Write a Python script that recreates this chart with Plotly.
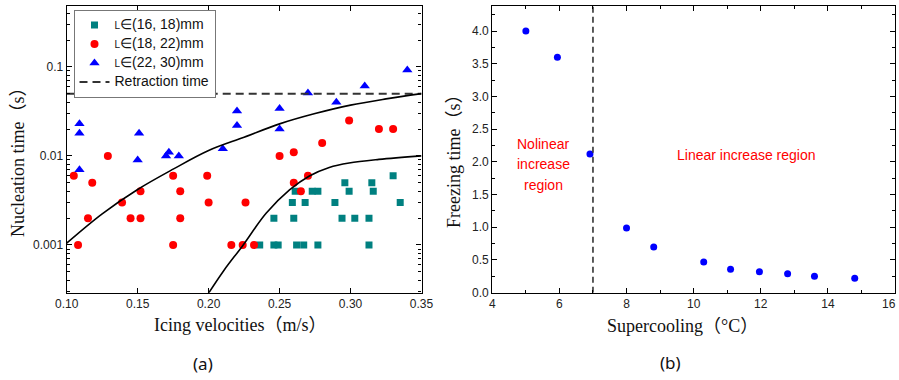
import plotly.graph_objects as go

# ---------------- data: panel (a) ----------------
sq_x = [0.236, 0.246, 0.249, 0.262, 0.267, 0.277, 0.313,
        0.246, 0.260, 0.294, 0.303, 0.313,
        0.259, 0.268, 0.289, 0.335,
        0.261, 0.273, 0.277, 0.299, 0.316,
        0.296, 0.315,
        0.330]
sq_y = [0.001, 0.001, 0.001, 0.001, 0.001, 0.001, 0.001,
        0.002, 0.002, 0.002, 0.002, 0.002,
        0.003, 0.003, 0.003, 0.003,
        0.004, 0.004, 0.004, 0.004, 0.004,
        0.005, 0.005,
        0.006]

ci_x = [0.105, 0.108, 0.115, 0.118, 0.129, 0.139, 0.145, 0.152, 0.152, 0.175,
        0.175, 0.180, 0.180, 0.199, 0.200, 0.216, 0.224, 0.226, 0.232, 0.250,
        0.260, 0.260, 0.265, 0.270, 0.280, 0.299, 0.320, 0.330]
ci_y = [0.006, 0.001, 0.002, 0.005, 0.010, 0.003, 0.002, 0.002, 0.004, 0.006,
        0.001, 0.002, 0.004, 0.006, 0.003, 0.001, 0.001, 0.003, 0.001, 0.010,
        0.011, 0.005, 0.004, 0.006, 0.014, 0.025, 0.020, 0.020]

tr_x = [0.109, 0.109, 0.109, 0.150, 0.151, 0.170, 0.172, 0.179, 0.210,
        0.220, 0.220, 0.250, 0.250, 0.270, 0.290, 0.310, 0.340]
tr_y = [0.023, 0.018, 0.007, 0.009, 0.018, 0.010, 0.011, 0.010, 0.012,
        0.032, 0.022, 0.034, 0.020, 0.051, 0.040, 0.061, 0.092]

fit1_x = [0.10, 0.125, 0.15, 0.175, 0.20, 0.225, 0.25, 0.275, 0.30, 0.325, 0.35]
fit1_y = [0.00105, 0.00224, 0.0042, 0.0071, 0.0115, 0.0162, 0.0229, 0.0299,
          0.0372, 0.0437, 0.0501]

fit2_x = [0.1995, 0.211, 0.224, 0.2405, 0.257, 0.271, 0.285, 0.299, 0.320, 0.35]
fit2_y = [0.00028, 0.000524, 0.000982, 0.00227, 0.00415, 0.00596, 0.00743,
          0.00834, 0.00914, 0.0100]

retraction_time = 0.05
vel_range = [0.10, 0.35]
vel_ticks = [0.10, 0.15, 0.20, 0.25, 0.30, 0.35]
nuc_ticks = [0.001, 0.01, 0.1]
nuc_ticktext = ["0.001", "0.01", "0.1"]

# ---------------- data: panel (b) ----------------
supercool = [5.0, 5.94, 6.91, 8.0, 8.81, 10.3, 11.1, 11.96, 12.8, 13.6, 14.8]
freeze_t = [4.0, 3.6, 2.12, 0.99, 0.70, 0.47, 0.36, 0.32, 0.29, 0.25, 0.22]
boundary = 7.0
sc_range = [4, 16]
sc_ticks = [4, 6, 8, 10, 12, 14, 16]
sc_ticktext = ["4", "6", "8", "10", "12", "14", ""]   # last label drawn at the edge below

W, H = 899, 380
SANS = "Liberation Sans, Arial, sans-serif"
SERIF = "Liberation Serif, Times New Roman, Noto Sans CJK SC, serif"

fig = go.Figure()

def lname(rest):
    return ("<span style='font-size:10px'>L</span>"
            "<span style='font-size:14px'>∈" + rest + "</span>")

fig.add_trace(go.Scatter(x=sq_x, y=sq_y, mode="markers", name=lname("(16, 18)mm"),
                         marker=dict(symbol="square", size=7, color="#008080"),
                         xaxis="x", yaxis="y"))
fig.add_trace(go.Scatter(x=ci_x, y=ci_y, mode="markers", name=lname("(18, 22)mm"),
                         marker=dict(symbol="circle", size=8, color="#ff0000"),
                         xaxis="x", yaxis="y"))
fig.add_trace(go.Scatter(x=tr_x, y=tr_y, mode="markers", name=lname("(22, 30)mm"),
                         marker=dict(symbol="triangle-up", size=9, color="#0000ff"),
                         xaxis="x", yaxis="y"))
fig.add_trace(go.Scatter(x=vel_range, y=[retraction_time, retraction_time], mode="lines",
                         name="<span style='font-size:14px'>Retraction time</span>",
                         line=dict(color="#333333", width=2, dash="8px,5px"),
                         xaxis="x", yaxis="y"))
fig.add_trace(go.Scatter(x=fit1_x, y=fit1_y, mode="lines", showlegend=False,
                         line=dict(color="black", width=1.6, shape="spline"),
                         xaxis="x", yaxis="y"))
fig.add_trace(go.Scatter(x=fit2_x, y=fit2_y, mode="lines", showlegend=False,
                         line=dict(color="black", width=1.6, shape="spline"),
                         xaxis="x", yaxis="y"))

fig.add_trace(go.Scatter(x=supercool, y=freeze_t, mode="markers", showlegend=False,
                         marker=dict(symbol="circle", size=7, color="#0000ff"),
                         xaxis="x2", yaxis="y2"))
fig.add_trace(go.Scatter(x=[boundary, boundary], y=[0, 4.39], mode="lines", showlegend=False,
                         line=dict(color="#333333", width=1.6, dash="6px,4px"),
                         xaxis="x2", yaxis="y2"))

minor_log = [m * 10 ** e for e in range(-4, 0) for m in range(2, 10)]

ax_common = dict(showline=True, linecolor="black", linewidth=1.3, mirror="ticks",
                 ticks="inside", ticklen=5, tickwidth=1.1, tickcolor="black",
                 showgrid=False, zeroline=False, automargin=False,
                 ticklabeloverflow="allow",
                 tickfont=dict(family=SANS, size=12, color="#222"))

x1d = [66.7 / W, 421.5 / W]
x2d = [492.3 / W, 895 / W]
yd = [1 - 292.7 / H, 1 - 5.5 / H]

fig.update_layout(
    template="none",
    width=W, height=H,
    margin=dict(l=0, r=0, t=0, b=0, autoexpand=False),
    paper_bgcolor="white", plot_bgcolor="white",
    xaxis=dict(domain=x1d, range=vel_range, tickvals=vel_ticks, tickformat=".2f",
               anchor="y", **ax_common),
    yaxis=dict(domain=yd, type="log", range=[-3.536, -0.311], tickvals=nuc_ticks,
               ticktext=nuc_ticktext, anchor="x",
               minor=dict(tickvals=minor_log, ticks="inside", ticklen=3,
                          tickcolor="black", tickwidth=1),
               **ax_common),
    xaxis2=dict(domain=x2d, range=sc_range, tickvals=sc_ticks, ticktext=sc_ticktext,
                anchor="y2",
                minor=dict(dtick=1, ticks="inside", ticklen=3, tickcolor="black"),
                **ax_common),
    yaxis2=dict(domain=yd, range=[0, 4.39], dtick=0.5, tick0=0, tickformat=".1f",
                anchor="x2",
                minor=dict(dtick=0.25, ticks="inside", ticklen=3, tickcolor="black"),
                **ax_common),
    legend=dict(x=73.5 / W, y=1 - 9.5 / H, xanchor="left", yanchor="top",
                bordercolor="#777", borderwidth=1, bgcolor="white",
                font=dict(family=SANS, size=11, color="#111"),
                itemwidth=30, tracegroupgap=0),
    showlegend=True,
)

def px(x, y):
    return x / W, 1 - y / H

ann = []
def add(text, x, y, size, family, color="#111", angle=0):
    ax_, ay_ = px(x, y)
    ann.append(dict(text=text, x=ax_, y=ay_, xref="paper", yref="paper",
                    xanchor="center", yanchor="middle", showarrow=False,
                    textangle=angle, font=dict(family=family, size=size, color=color)))

add("Icing velocities（m/s）", 240, 325, 18, SERIF)
add("Supercooling（°C）", 682, 326, 18, SERIF)
add("Nucleation time（s）", 18, 158, 18, SERIF, angle=-90)
add("Freezing time（s）", 454, 157, 18, SERIF, angle=-90)
add("(a)", 203, 363, 17, "Noto Sans, sans-serif")
add("(b)", 670, 362, 17, "Noto Sans, sans-serif")
add("Nolinear", 543, 144, 14, SANS, color="#ff0000")
add("increase", 543, 164.5, 14, SANS, color="#ff0000")
add("region", 543, 185, 14, SANS, color="#ff0000")
add("Linear increase region", 746, 155, 14, SANS, color="#ff0000")
# last x tick label of panel (b), kept fully inside the page
ann.append(dict(text=str(sc_ticks[-1]), x=sc_ticks[-1], xref="x2",
                y=1 - 304 / H, yref="paper", xanchor="right", yanchor="middle",
                xshift=3, showarrow=False,
                font=dict(family=SANS, size=12, color="#222")))
fig.update_layout(annotations=ann)

fig.write_html("out.html", config={"displayModeBar": False},
               post_script="document.body.style.margin='0';document.body.style.overflow='hidden';")
